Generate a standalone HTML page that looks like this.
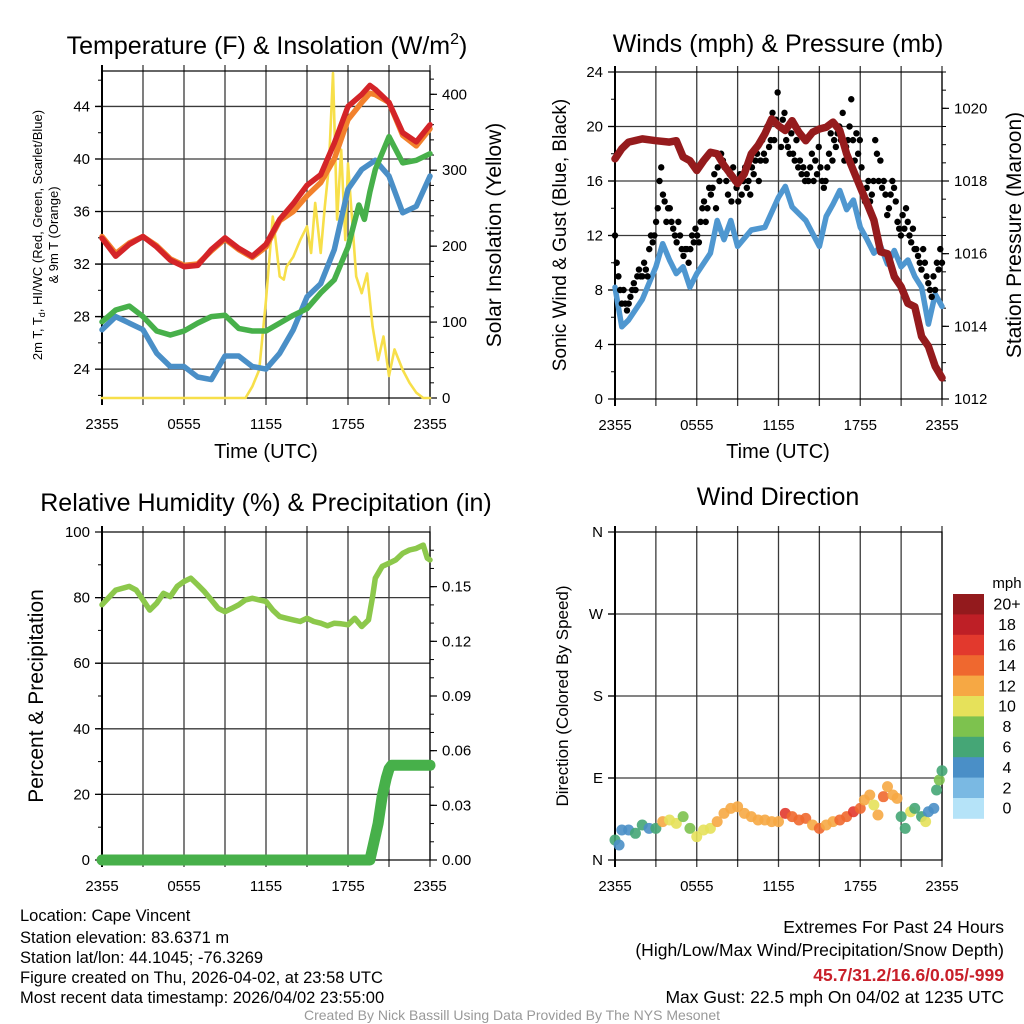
<!DOCTYPE html>
<html><head><meta charset="utf-8"><style>
html,body{margin:0;padding:0;background:#fff;}
svg{display:block;font-family:"Liberation Sans",Arial,sans-serif;}
</style></head><body>
<svg id="chart" width="1024" height="1024" viewBox="0 0 1024 1024" xmlns="http://www.w3.org/2000/svg">
<rect x="0" y="0" width="1024" height="1024" fill="#fff"/>
<text x="267" y="54" font-size="25" text-anchor="middle">Temperature (F) &amp; Insolation (W/m<tspan dy="-10" font-size="16">2</tspan><tspan dy="10">)</tspan></text>
<text x="778" y="52" font-size="25" text-anchor="middle">Winds (mph) &amp; Pressure (mb)</text>
<text x="266" y="511" font-size="25" text-anchor="middle">Relative Humidity (%) &amp; Precipitation (in)</text>
<text x="778" y="505" font-size="25" text-anchor="middle">Wind Direction</text>

<text transform="translate(42,235) rotate(-90)" font-size="13" text-anchor="middle">2m T, T<tspan dy="3" font-size="9">d</tspan><tspan dy="-3">, HI/WC (Red, Green, Scarlet/Blue)</tspan></text>
<text transform="translate(58,235) rotate(-90)" font-size="13" text-anchor="middle">&amp; 9m T (Orange)</text>
<text transform="translate(501,235) rotate(-90)" font-size="21" text-anchor="middle">Solar Insolation (Yellow)</text>
<text transform="translate(566,235) rotate(-90)" font-size="19" text-anchor="middle">Sonic Wind &amp; Gust (Blue, Black)</text>
<text transform="translate(1021,235) rotate(-90)" font-size="21" text-anchor="middle">Station Pressure (Maroon)</text>
<text transform="translate(43,696) rotate(-90)" font-size="21" text-anchor="middle">Percent &amp; Precipitation</text>
<text transform="translate(568,696) rotate(-90)" font-size="17" text-anchor="middle">Direction (Colored By Speed)</text>
<text x="266" y="458" font-size="20" text-anchor="middle">Time (UTC)</text>
<text x="778" y="458" font-size="20" text-anchor="middle">Time (UTC)</text>

<g font-size="16.5">
<text x="20" y="921">Location: Cape Vincent</text>
<text x="20" y="943">Station elevation: 83.6371 m</text>
<text x="20" y="963">Station lat/lon: 44.1045; -76.3269</text>
<text x="20" y="983">Figure created on Thu, 2026-04-02, at 23:58 UTC</text>
<text x="20" y="1003">Most recent data timestamp: 2026/04/02 23:55:00</text>
</g>
<g font-size="17.5" text-anchor="end">
<text x="1004" y="933">Extremes For Past 24 Hours</text>
<text x="1004" y="956">(High/Low/Max Wind/Precipitation/Snow Depth)</text>
<text x="1004" y="981" fill="#c8202a" font-weight="bold">45.7/31.2/16.6/0.05/-999</text>
<text x="1004" y="1003">Max Gust: 22.5 mph On 04/02 at 1235 UTC</text>
</g>
<text x="512" y="1020" font-size="14" fill="#999" text-anchor="middle">Created By Nick Bassill Using Data Provided By The NYS Mesonet</text>
</svg>
<script>
// ---------- data ----------
const xTickLabels = ['2355','0555','1155','1755','2355'];
const tempHours = [0,1,2,3,4,5,6,7,8,9,10,11,12,13,14,15,16,17,18,19,19.6,20,21,22,23,24];
const temp2m = [33.97,32.6,33.5,34.1,33.3,32.3,31.8,31.9,33.1,34.0,33.2,32.6,33.5,35.4,36.6,38.0,38.8,41.2,44.0,44.9,45.6,45.3,44.3,42.0,41.3,42.6];
const temp9m = [34.1,32.8,33.6,34.1,33.4,32.4,31.9,32.0,33.0,33.9,33.1,32.5,33.3,35.3,36.0,37.2,38.2,40.0,43.0,44.3,45.0,44.9,44.3,41.8,41.0,42.3];
const dewHours = [0,1,2,3,4,5,6,7,8,9,10,11,12,13,14,15,16,17,18,18.8,19.2,19.6,20,21,22,23,24];
const dewpoint = [27.6,28.5,28.8,28.0,26.9,26.6,26.9,27.5,28.0,28.1,27.1,26.9,26.9,27.5,28.1,28.6,29.8,30.8,33.3,36.5,35.4,37.5,39.2,41.7,39.7,39.9,40.4];
const wcHours = [0,1,2,3,4,5,6,7,8,9,10,11,12,13,14,15,16,17,18,19,20,21,22,23,24];
const windChill = [27.0,28.0,27.5,27.0,25.2,24.2,24.2,23.4,23.2,25.0,25.0,24.2,24.0,25.2,27.0,29.5,30.5,33.1,37.7,39.2,39.9,38.7,35.9,36.4,38.7];
const solarHours = [0,10.5,11,11.5,12,12.5,12.75,13,13.3,13.5,14,14.5,15,15.3,15.6,16,16.3,16.6,16.9,17.2,17.5,17.8,18,18.3,18.6,19,19.4,19.8,20.2,20.6,21,21.4,22,22.5,23,23.5,24];
const solar = [0,0,15,37,129,239,200,160,156,173,186,208,226,191,257,191,252,305,428,235,327,208,309,235,160,138,164,94,50,81,29,64,37,20,7,0,0];

const windHours = [0,0.5,1,2,3,3.5,4,4.5,5,5.5,6,7,7.5,8,8.5,9,10,11,12,12.5,13,14,15,15.5,16,16.5,17,17.5,18,18.5,19,19.5,20,20.5,21,21.5,22,22.5,23,23.5,24];
const windSpeed = [8.2,5.3,5.8,7.3,9.7,11.4,10.2,9.2,9.7,8.2,9.2,10.7,13.1,11.7,13.1,11.2,12.4,12.6,14.8,15.6,14.1,13.1,11.2,13.4,14.3,15.3,13.9,14.6,12.6,11.7,10.7,11.2,9.9,10.9,9.7,10.2,9.0,8.2,5.5,7.7,6.8];
const presHours = [0,0.5,1,2,3,4,4.5,5,5.5,6,6.5,7,7.5,8,9,9.5,10,10.5,11,11.5,12,12.5,13,13.5,14,14.5,15,15.5,16,16.5,17,17.5,18,18.5,19,19.5,20,20.5,21,21.5,22,22.5,23,23.5,24];
const pressure = [1018.61,1018.89,1019.07,1019.16,1019.11,1019.07,1019.11,1018.66,1018.56,1018.29,1018.56,1018.79,1018.75,1018.43,1017.93,1018.2,1018.75,1018.98,1019.3,1019.71,1019.52,1019.39,1019.66,1019.34,1019.11,1019.34,1019.43,1019.48,1019.62,1019.39,1018.75,1018.29,1017.83,1017.38,1016.92,1016.05,1016.0,1015.37,1015.09,1014.63,1014.54,1013.72,1013.45,1012.9,1012.58];
const gusts = [12,10,9,8,7,8,7,6.5, 7,7.5,8,8.5,8,9,9.5,9, 9,10,9.5,9,11,12,11.5,12, 13,14,16,17,15,14.5,13,14,
 14,13,12.5,12,11.5,13,12,11, 10.5,11,11,10,11,12,11.5,12.5, 12,11.5,13,14,14.5,13,14,15.5, 15,15.5,16.5,14,17,16,18,17.5,
 17,16,15,16.5,14.5,17,16,15.5, 14.5,16.5,15,16,17,15.5,16,15, 17,16.5,17.5,18,16,17.5,19,18, 17.5,20,18.5,19,21,19,20.5,22.5,
 20,18.5,20.5,21,19,18.5,18,19.5, 18,17.5,19,17,17.5,16.5,17,16, 16.5,16,17,18,16,17.5,16.5,18.5, 17,16,15.5,16,17,18,19.5,17.5,
 19,18.5,19.5,20,19,21,17.5,18.5, 19,20,22,19,17.5,19.5,18,19, 17,15,14.5,15.5,16,14.5,15,16, 19,18,16,17.5,15.5,16,15,13.5,
 14,15,16,15.5,14.5,13,12.5,12, 13.5,12.5,14,13,12,11.5,12.5,11, 11,10.5,10,9.5,11,10,9,8.5, 8,7.5,9,8,10,9.5,11,10];

const rhHours = [0,1,2,2.5,3,3.5,4,4.5,5,5.5,6,6.5,7,7.5,8,8.5,9,9.5,10,10.5,11,11.5,12,12.5,13,13.5,14,14.5,15,15.5,16,16.5,17,17.5,18,18.5,19,19.5,19.8,20,20.5,21,21.5,22,22.5,23,23.5,23.8,24];
const rh = [77.8,82.3,83.4,82.3,79.3,76.2,78.3,81.3,80.3,83.4,84.9,85.9,83.9,81.8,79.3,76.7,75.7,76.7,77.8,79.3,79.8,79.3,78.8,76.2,74.2,73.7,73.2,72.7,73.7,72.7,72.2,71.4,72.2,72.0,71.7,73.7,71.2,73.2,80.3,85.9,89.5,90.5,91.5,93.5,94.5,95.0,96.0,92.0,91.5];
const precipHours = [0,19.6,19.9,20.2,20.5,20.8,21.0,21.2,24];
const precip = [0,0,0.01,0.02,0.035,0.045,0.05,0.052,0.052];

const dirHours = [0,0.3,0.5,1,1.5,2,2.5,3,3.5,4,4.5,5,5.5,6,6.5,7,7.5,8,8.5,9,9.5,10,10.5,11,11.5,12,12.5,13,13.5,14,14.5,15,15.5,16,16.5,17,17.5,18,18.3,18.7,19,19.3,19.7,20,20.4,20.7,21,21.3,21.7,22,22.5,22.8,23,23.4,23.6,23.8,24];
const direction = [21.9,16.5,32.9,32.9,29.3,38.4,34.7,34.7,42.1,43.9,40.2,47.6,34.7,25.6,32.9,34.7,42.1,51.2,56.7,58.5,51.2,47.6,43.9,43.9,42.1,42.1,51.2,47.6,43.9,45.7,38.4,34.7,38.4,42.1,43.9,47.6,53.0,56.7,65.9,71.3,60.4,49.4,69.5,80.5,71.3,67.7,47.6,34.7,53.0,56.7,47.6,42.1,53.0,56.7,76.8,87.8,98.0];
const dirSpeed = [7,5,4,5,6,6,5,6,13,10,10,8,9,10,10,11,12,13,12,12,12,12,13,12,12,13,17,15,15,15,12,14,13,12,15,15,16,14,13,12,11,12,15,12,12,12,7,6,10,6,7,10,5,4,6,8,7];
const speedBinLabels = ['0','2','4','6','8','10','12','14','16','18','20+'];
const speedBinColors = ['#b5e3f8','#7ab9e3','#4a8fc7','#45a676','#7dc24e','#e6e15a','#f6a844','#ef682f','#e2392d','#be1f26','#931a1d'];

// ---------- helpers ----------
const NS = 'http://www.w3.org/2000/svg';
const svg = document.getElementById('chart');
function mk(tag, attrs, name, parent) {
  const el = document.createElementNS(NS, tag);
  for (const k in attrs) el.setAttribute(k, attrs[k]);
  
  
  (parent || svg).appendChild(el);
  return el;
}
function txt(x, y, s, size, anchor, name, parent) {
  const el = mk('text', {x: x, y: y, 'font-size': size, 'text-anchor': anchor}, name, parent);
  el.textContent = s;
  return el;
}
function scale(d0, d1, r0, r1) { return v => r0 + (v - d0) / (d1 - d0) * (r1 - r0); }

const P1 = {x0:102, x1:430, y0:71, y1:398};
const P2 = {x0:615, x1:942, y0:72, y1:399};
const P3 = {x0:102, x1:430, y0:532, y1:860};
const P4 = {x0:615, x1:942, y0:532, y1:860};

function frame(P, name, gridYs) {
  const g = mk('g', {}, name + '-axes');
  const xs = scale(0, 24, P.x0, P.x1);
  for (let h = 0; h <= 24; h += 3) {
    const x = xs(h);
    mk('line', {x1:x, y1:P.y0-6, x2:x, y2:P.y1+7, stroke:'#3a3a3a', 'stroke-width':1.3}, name + '-grid-x', g);
  }
  gridYs.forEach(y => mk('line', {x1:P.x0-7, y1:y, x2:P.x1, y2:y, stroke:'#3a3a3a', 'stroke-width':1.3}, name + '-grid-y', g));
  mk('rect', {x:P.x0, y:P.y0, width:P.x1-P.x0, height:P.y1-P.y0, fill:'none', stroke:'#000', 'stroke-width':1.2}, name + '-frame', g);
  mk('line', {x1:P.x0, y1:P.y0-6, x2:P.x0, y2:P.y1+7, stroke:'#000', 'stroke-width':2}, name + '-left-axis', g);
  xTickLabels.forEach((s, i) => txt(xs(i*6), P.y1+31, s, 15, 'middle', name + '-x-tick-label', g));
  return xs;
}
function yTicks(P, side, ys, labels, minorYs, name) {
  const g = mk('g', {}, name);
  const x = side === 'left' ? P.x0 : P.x1;
  const d = side === 'left' ? -1 : 1;
  minorYs.forEach(y => mk('line', {x1:x, y1:y, x2:x+d*4, y2:y, stroke:'#000', 'stroke-width':1}, name + '-minor-tick', g));
  ys.forEach((y, i) => {
    mk('line', {x1:x, y1:y, x2:x+d*7, y2:y, stroke:'#000', 'stroke-width':1.2}, name + '-major-tick', g);
    txt(x + d*12, y + 5, labels[i], 15, side === 'left' ? 'end' : 'start', name + '-label', g);
  });
}
function pathD(xsArr, ysArr) { return xsArr.map((x, i) => (i ? 'L' : 'M') + x.toFixed(1) + ',' + ysArr[i].toFixed(1)).join(''); }
function series(hours, vals, xs, ys, color, w, name) {
  return mk('path', {d: pathD(hours.map(xs), vals.map(ys)), fill:'none', stroke:color, 'stroke-width':w, 'stroke-linejoin':'round', 'stroke-linecap':'round'}, name);
}
function range(a, b, s) { const r = []; for (let v = a; v <= b + 1e-9; v += s) r.push(+v.toFixed(4)); return r; }

// ---------- panel 1 ----------
{
  const yT = scale(21.8, 46.7, P1.y1, P1.y0);
  const yS = scale(0, 430.7, P1.y1, P1.y0);
  const majors = [24,28,32,36,40,44];
  const xs = frame(P1, 'temperature-panel', majors.map(yT));
  yTicks(P1, 'left', majors.map(yT), majors.map(String), range(22,46,2).map(yT), 'temperature-y-axis');
  const sm = [0,100,200,300,400];
  yTicks(P1, 'right', sm.map(yS), sm.map(String), range(0,420,20).map(yS), 'insolation-y-axis');
  series(solarHours, solar, xs, yS, '#f7df4a', 2.6, 'insolation-line');
  series(wcHours, windChill, xs, yT, '#4a8fc7', 5.5, 'windchill-line');
  series(dewHours, dewpoint, xs, yT, '#47b04a', 5.5, 'dewpoint-line');
  series(tempHours, temp9m, xs, yT, '#f2812c', 5.5, 'temp-9m-line');
  series(tempHours, temp2m, xs, yT, '#d42428', 5.5, 'temp-2m-line');
}
// ---------- panel 2 ----------
{
  const yW = scale(0, 24, P2.y1, P2.y0);
  const yP = scale(1012, 1021, P2.y1, P2.y0);
  const majors = [0,4,8,12,16,20,24];
  const xs = frame(P2, 'wind-panel', majors.map(yW).filter(y => y > P2.y0 + 1 && y < P2.y1 - 1));
  yTicks(P2, 'left', majors.map(yW), majors.map(String), range(0,24,2).map(yW), 'wind-y-axis');
  const pm = [1012,1014,1016,1018,1020];
  yTicks(P2, 'right', pm.map(yP), pm.map(String), range(1012,1021,0.5).map(yP), 'pressure-y-axis');
  series(windHours, windSpeed, xs, yW, '#4f97d0', 5.5, 'wind-speed-line');
  const g = mk('g', {}, 'gust-points');
  gusts.forEach((v, i) => {
    mk('circle', {cx: xs(i * 24 / (gusts.length - 1)), cy: yW(v), r: 3.2, fill:'#000'}, 'gust-point', g);
  });
  series(presHours, pressure, xs, yP, '#951b1d', 7.5, 'pressure-line');
}
// ---------- panel 3 ----------
{
  const yR = scale(0, 100, P3.y1, P3.y0);
  const yPr = scale(0, 0.18, P3.y1, P3.y0);
  const majors = [0,20,40,60,80,100];
  const xs = frame(P3, 'humidity-panel', [20,40,60,80].map(yR));
  yTicks(P3, 'left', majors.map(yR), majors.map(String), range(0,100,10).map(yR), 'humidity-y-axis');
  const pm = [0,0.03,0.06,0.09,0.12,0.15];
  yTicks(P3, 'right', pm.map(yPr), pm.map(v => v.toFixed(2)), range(0,0.17,0.01).map(yPr), 'precip-y-axis');
  series(rhHours, rh, xs, yR, '#8cc84b', 5.5, 'humidity-line');
  series(precipHours, precip, xs, yPr, '#47b04a', 11, 'precip-line');
}
// ---------- panel 4 ----------
{
  const yD = scale(0, 360, P4.y1, P4.y0);
  const xs = frame(P4, 'direction-panel', [90,180,270].map(yD));
  yTicks(P4, 'left', [0,90,180,270,360].map(yD), ['N','E','S','W','N'], [], 'direction-y-axis');
  const g = mk('g', {}, 'direction-points');
  direction.forEach((v, i) => {
    const bin = Math.min(10, Math.floor(dirSpeed[i] / 2));
    mk('circle', {cx: xs(dirHours[i]), cy: yD(v), r: 5.5, fill: speedBinColors[bin], 'fill-opacity':0.9}, 'direction-point', g);
  });
  const cb = mk('g', {}, 'speed-colorbar');
  const top = 594, bh = 20.4;
  txt(1007, 588, 'mph', 15, 'middle', 'colorbar-unit', cb);
  for (let k = 10; k >= 0; k--) {
    const y = top + (10 - k) * bh;
    mk('rect', {x:953, y:y, width:31, height:bh+0.4, fill:speedBinColors[k]}, 'colorbar-box', cb);
    txt(1007, y + bh/2 + 5.5, speedBinLabels[k], 16, 'middle', 'colorbar-label', cb);
  }
}
</script>
</body></html>
